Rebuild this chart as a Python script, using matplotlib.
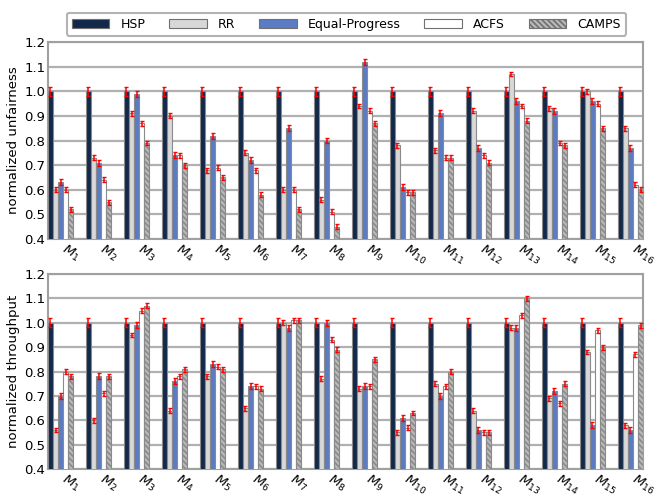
import matplotlib
matplotlib.use("Agg")
import matplotlib.pyplot as plt
import numpy as np

plt.rcParams['hatch.color'] = '#333333'
plt.rcParams['hatch.linewidth'] = 1.2
plt.rcParams['mathtext.fontset'] = 'dejavusans'

# workloads M1..M16
workloads = [r"$M_{%d}$" % i for i in range(1, 17)]
series = ["HSP", "RR", "Equal-Progress", "ACFS", "CAMPS"]

# normalized unfairness (top panel)
unf_hsp = [1.0] * 16
unf_rr = [0.60, 0.73, 0.91, 0.90, 0.68, 0.75, 0.60, 0.56, 0.94, 0.78, 0.76, 0.92, 1.07, 0.93, 1.00, 0.85]
unf_ep = [0.63, 0.71, 0.99, 0.74, 0.82, 0.72, 0.85, 0.80, 1.12, 0.61, 0.91, 0.77, 0.96, 0.92, 0.96, 0.77]
unf_acfs = [0.60, 0.64, 0.87, 0.74, 0.69, 0.68, 0.60, 0.51, 0.92, 0.59, 0.73, 0.74, 0.94, 0.79, 0.95, 0.62]
unf_camps = [0.52, 0.55, 0.79, 0.70, 0.65, 0.58, 0.52, 0.45, 0.87, 0.59, 0.73, 0.71, 0.88, 0.78, 0.85, 0.60]

# normalized throughput (bottom panel)
thr_hsp = [1.0] * 16
thr_rr = [0.56, 0.60, 0.95, 0.64, 0.78, 0.65, 1.00, 0.77, 0.73, 0.55, 0.75, 0.64, 0.98, 0.69, 0.88, 0.58]
thr_ep = [0.70, 0.78, 0.99, 0.76, 0.83, 0.74, 0.98, 1.00, 0.74, 0.61, 0.70, 0.56, 0.98, 0.72, 0.58, 0.56]
thr_acfs = [0.80, 0.71, 1.05, 0.78, 0.82, 0.74, 1.01, 0.93, 0.74, 0.57, 0.74, 0.55, 1.03, 0.67, 0.97, 0.87]
thr_camps = [0.78, 0.78, 1.07, 0.81, 0.81, 0.73, 1.01, 0.89, 0.85, 0.63, 0.80, 0.55, 1.10, 0.75, 0.90, 0.99]

# error bar half-widths per series
unf_err = [0.018, 0.010, 0.012, 0.010, 0.010]
thr_err = [0.018, 0.010, 0.012, 0.010, 0.010]

colors = ["#13294b", "#d8d8d8", "#5b7cc4", "#ffffff", "#b8b8b8"]
hatches = [None, None, None, None, "\\\\\\\\\\\\"]

fig = plt.figure(figsize=(6.61, 4.97), dpi=100)
ax1 = fig.add_axes([0.0726, 0.5191, 0.9002, 0.3964])
ax2 = fig.add_axes([0.0726, 0.0563, 0.9002, 0.3924])

w = 0.132
x = np.arange(16)


def draw(ax, data, errs, ylabel):
    bars = []
    for j, vals in enumerate(data):
        b = ax.bar(x + w / 2 + j * w, vals, w, color=colors[j], edgecolor="#8a8a8a",
                   linewidth=0.8, hatch=hatches[j], label=series[j], zorder=3,
                   yerr=errs[j], error_kw=dict(ecolor="red", elinewidth=1.1,
                                               capsize=1.7, capthick=1.0, zorder=4))
        bars.append(b)
    ax.set_ylim(0.4, 1.2)
    ax.set_xlim(0, 15 + 5 * w)
    ax.set_yticks(np.arange(0.4, 1.21, 0.1))
    ax.set_yticklabels(["%.1f" % v for v in np.arange(0.4, 1.21, 0.1)], fontsize=9.5)
    ax.yaxis.grid(True, color="#b0b0b0", linewidth=1.6, zorder=0)
    ax.set_axisbelow(True)
    ax.tick_params(axis="both", length=0, pad=2)
    ax.set_xticks(x + 2.5 * w + 0.15)
    ax.set_xticklabels(workloads, rotation=-30, ha="left", rotation_mode="anchor", fontsize=9.5)
    ax.set_ylabel(ylabel, fontsize=9.5, labelpad=3)
    for s in ax.spines.values():
        s.set_color("#a0a0a0")
        s.set_linewidth(1.5)
    return bars


handles = draw(ax1, [unf_hsp, unf_rr, unf_ep, unf_acfs, unf_camps],
               [[e] * 16 for e in unf_err], "normalized unfairness")
draw(ax2, [thr_hsp, thr_rr, thr_ep, thr_acfs, thr_camps],
     [[e] * 16 for e in thr_err], "normalized throughput")

leg = fig.legend(handles=handles, loc="center", bbox_to_anchor=(0.524, 0.951), ncol=5,
                 fontsize=9, handlelength=3.0, handleheight=0.7, columnspacing=1.9,
                 handletextpad=0.9, frameon=True, fancybox=True, edgecolor="#a0a0a0",
                 borderpad=0.4)
leg.get_frame().set_linewidth(1.5)
for h in leg.legend_handles:
    h.set_edgecolor("#707070")

fig.savefig("out.png", dpi=100)
